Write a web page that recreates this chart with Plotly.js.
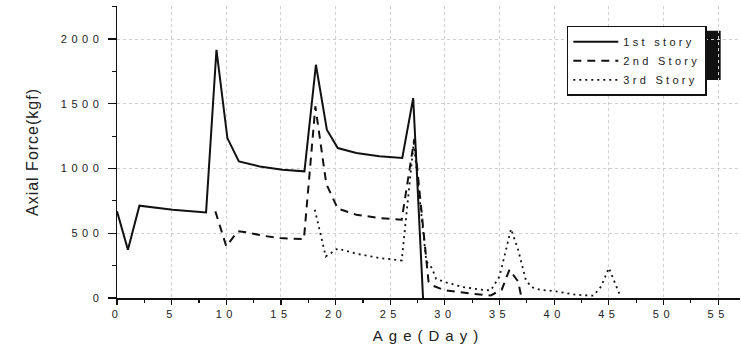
<!DOCTYPE html>
<html>
<head>
<meta charset="utf-8">
<script src="https://cdn.plot.ly/plotly-3.0.1.min.js"></script>
<style>
html, body { margin: 0; padding: 0; background: #fff; }
#chart { width: 741px; height: 354px; }
.xtick text, .ytick text { letter-spacing: 4.5px; }
.legendtext { letter-spacing: 3.3px; }
.xtitle { letter-spacing: 6px; }
.ytitle { letter-spacing: 1px; }
</style>
</head>
<body>
<div id="chart"></div>
<script>
// Age (day) and axial force (kgf) for each story
const story1Days  = [0, 1, 2.05, 5.1, 8.15, 9.1, 10.1, 11.15, 13.05, 15.15, 17.15, 18.2, 19.2, 20.2, 21.9, 24, 26.1, 27.1, 28];
const story1Force = [669, 373, 713, 682, 661, 1917, 1235, 1055, 1016, 991, 978, 1801, 1300, 1158, 1120, 1094, 1081, 1544, 0];

const story2Days  = [9, 10, 11.05, 11.85, 13.35, 14.9, 17.1, 18.15, 19.15, 20.2, 21.9, 24, 26.05, 27.2, 28.5, 28.9, 30, 31.3, 32.7, 34.2, 35.2, 35.9, 36.7, 37];
const story2Force = [669, 399, 515, 507, 481, 463, 455, 1480, 880, 690, 643, 618, 605, 1228, 128, 95, 59, 43, 31, 20, 64, 218, 128, 5];

const story3Days  = [18.1, 19.1, 20.2, 21.9, 24, 26.05, 27.15, 28.3, 28.8, 29.2, 30.1, 31.6, 33.3, 34.2, 35, 36.05, 36.7, 37.4, 37.9, 38.7, 40.2, 42, 43.6, 44.3, 45, 45.8, 46];
const story3Force = [682, 321, 382, 342, 309, 290, 1200, 283, 232, 147, 121, 85, 64, 59, 167, 533, 373, 141, 85, 64, 51, 25, 18, 90, 232, 77, 25];

const seriesNames = ['1st story', '2nd Story', '3rd Story'];
const xTickVals = [0, 5, 10, 15, 20, 25, 30, 35, 40, 45, 50, 55];
const yTickVals = [0, 500, 1000, 1500, 2000];

const xRange = [0, 57];
const yRange = [0, 2255];

const ink = '#111111';
const fontFam = '"Liberation Sans", Arial, sans-serif';

const traces = [
  { x: story1Days, y: story1Force, name: seriesNames[0], mode: 'lines',
    line: { color: ink, width: 2, dash: 'solid' } },
  { x: story2Days, y: story2Force, name: seriesNames[1], mode: 'lines',
    line: { color: ink, width: 2, dash: '8px,6px' } },
  { x: story3Days, y: story3Force, name: seriesNames[2], mode: 'lines',
    line: { color: ink, width: 1.8, dash: '2px,4px' } }
];

const layout = {
  width: 741, height: 354,
  margin: { l: 117, r: 1, t: 6, b: 56 },
  paper_bgcolor: '#ffffff', plot_bgcolor: '#ffffff',
  font: { family: fontFam, color: '#222', size: 11 },
  showlegend: true,
  legend: {
    x: 0.722, y: 0.932, xanchor: 'left', yanchor: 'top',
    bgcolor: '#ffffff', bordercolor: ink, borderwidth: 1.5,
    font: { family: fontFam, size: 11, color: '#222' },
    itemwidth: 45, tracegroupgap: 0
  },
  xaxis: {
    range: xRange, tickmode: 'array', tickvals: xTickVals,
    ticks: 'outside', ticklen: 5, tickwidth: 1.2, tickcolor: ink,
    minor: { dtick: 2.5, ticks: 'outside', ticklen: 3, tickwidth: 1.2, tickcolor: ink, showgrid: false },
    showline: true, linecolor: ink, linewidth: 1.5,
    showgrid: true, gridcolor: '#cfcfcf', griddash: 'dot', gridwidth: 1,
    zeroline: false,
    tickfont: { family: fontFam, size: 11, color: '#222' },
    title: { text: 'Age(Day)', font: { family: fontFam, size: 15, color: '#222' }, standoff: 12 }
  },
  yaxis: {
    range: yRange, tickmode: 'array', tickvals: yTickVals,
    ticks: 'outside', ticklen: 8, tickwidth: 1.2, tickcolor: ink,
    minor: { dtick: 250, ticks: 'outside', ticklen: 4, tickwidth: 1.2, tickcolor: ink, showgrid: false },
    showline: true, linecolor: ink, linewidth: 1.5,
    showgrid: true, gridcolor: '#cfcfcf', griddash: 'dot', gridwidth: 1,
    zeroline: false,
    tickfont: { family: fontFam, size: 11, color: '#222' },
    ticklabelstandoff: 2,
    title: { text: 'Axial Force(kgf)', font: { family: fontFam, size: 16, color: '#222' }, standoff: 18 }
  },
  xaxis2: {
    overlaying: 'x', side: 'top', anchor: 'y', range: xRange,
    tickmode: 'array', tickvals: xTickVals, showticklabels: false,
    ticks: 'inside', ticklen: 5, tickwidth: 1.2, tickcolor: ink,
    minor: { dtick: 2.5, ticks: 'inside', ticklen: 3, tickwidth: 1.2, tickcolor: ink },
    showline: true, linecolor: ink, linewidth: 1.5, showgrid: false, zeroline: false
  },
  yaxis2: {
    overlaying: 'y', side: 'right', anchor: 'x', range: yRange,
    tickmode: 'array', tickvals: yTickVals, showticklabels: false,
    ticks: 'inside', ticklen: 5, tickwidth: 1.2, tickcolor: ink,
    minor: { dtick: 250, ticks: 'inside', ticklen: 3, tickwidth: 1.2, tickcolor: ink },
    showline: true, linecolor: ink, linewidth: 1.5, showgrid: false, zeroline: false
  },
  shapes: [
    { type: 'rect', xref: 'paper', yref: 'paper', layer: 'below',
      x0: 0.732, x1: 0.969, y0: 0.747, y1: 0.915,
      fillcolor: ink, line: { width: 0 } }
  ]
};

Plotly.newPlot('chart', traces, layout, { displayModeBar: false, staticPlot: true });
</script>
</body>
</html>
